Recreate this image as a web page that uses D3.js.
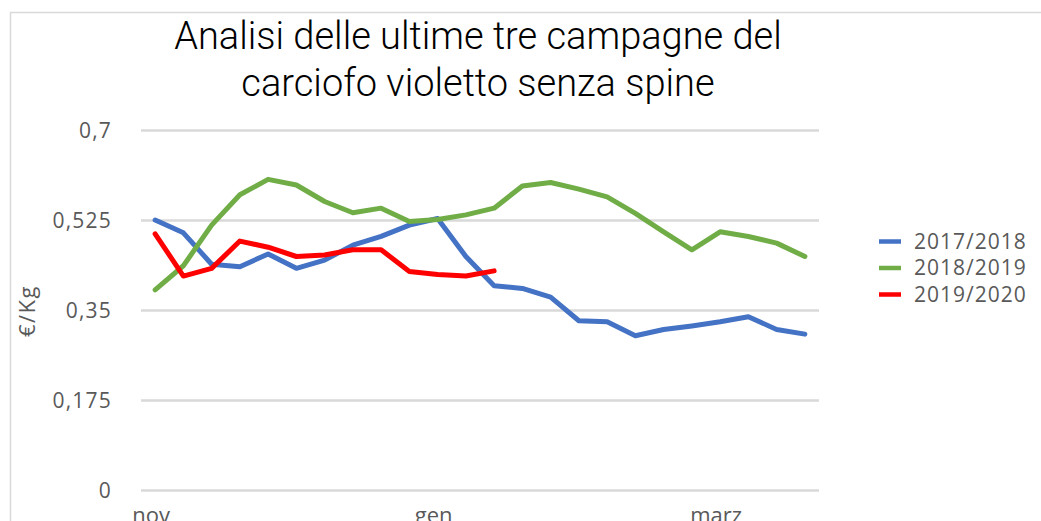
<!DOCTYPE html>
<html>
<head>
<meta charset="utf-8">
<script src="https://cdn.jsdelivr.net/npm/d3@7"></script>
<style>
  html, body { margin: 0; padding: 0; background: #fff; }
  svg { display: block; }
  .tick-label { font-family: "Open Sans", sans-serif; fill: #595959; }
</style>
</head>
<body>
<div id="chart"></div>
<script>
(function () {
  'use strict';

  // weeks of the campaign, nov -> apr
  var weeks = ["w1","w2","w3","w4","w5","w6","w7","w8","w9","w10","w11","w12",
               "w13","w14","w15","w16","w17","w18","w19","w20","w21","w22","w23","w24"];
  var monthLabels = { w1: "nov", w11: "gen", w21: "marz" };
  var yTicks = [0, 0.175, 0.35, 0.525, 0.7];

  var s2017 = [0.526, 0.501, 0.440, 0.435, 0.460, 0.432, 0.448, 0.477, 0.494, 0.516, 0.529, 0.455,
               0.398, 0.393, 0.376, 0.330, 0.328, 0.301, 0.313, 0.320, 0.328, 0.338, 0.313, 0.304];
  var s2018 = [0.390, 0.437, 0.516, 0.575, 0.605, 0.594, 0.562, 0.540, 0.549, 0.523, 0.527, 0.536,
               0.549, 0.592, 0.599, 0.586, 0.571, 0.539, 0.503, 0.468, 0.503, 0.494, 0.481, 0.455];
  var s2019 = [0.499, 0.417, 0.432, 0.485, 0.473, 0.455, 0.458, 0.468, 0.468, 0.426, 0.420, 0.417,
               0.427];

  var seriesNames = ["2017/2018", "2018/2019", "2019/2020"];
  var seriesColors = ["#4472C4", "#70AD47", "#FF0000"];
  var seriesData = [s2017, s2018, s2019];

  var W = 1041, H = 521;
  var svg = d3.select("#chart").append("svg")
    .attr("width", W)
    .attr("height", H);

  // chart border (only top and left visible)
  svg.append("line").attr("x1", 10).attr("x2", W).attr("y1", 12.5).attr("y2", 12.5)
    .attr("stroke", "#d9d9d9").attr("stroke-width", 1.5);
  svg.append("line").attr("x1", 10.5).attr("x2", 10.5).attr("y1", 12).attr("y2", H)
    .attr("stroke", "#d9d9d9").attr("stroke-width", 1.5);

  // title
  var title = svg.append("text")
    .attr("text-anchor", "middle")
    .attr("font-family", "Roboto, sans-serif")
    .attr("font-weight", 300)
    .attr("font-size", 38)
    .attr("fill", "#000");
  title.append("tspan").attr("x", 478).attr("y", 49).text("Analisi delle ultime tre campagne del");
  title.append("tspan").attr("x", 478).attr("y", 96).text("carciofo violetto senza spine");

  var x = d3.scalePoint().domain(weeks).range([141, 819]).padding(0.5);
  var y = d3.scaleLinear().domain([0, 0.7]).range([490.5, 130.5]);

  // grid
  svg.append("g").selectAll("line")
    .data(yTicks)
    .enter().append("line")
    .attr("x1", 141).attr("x2", 819)
    .attr("y1", function (d) { return y(d); })
    .attr("y2", function (d) { return y(d); })
    .attr("stroke", "#d9d9d9")
    .attr("stroke-width", 2.5);

  // y axis labels
  svg.append("g").selectAll("text")
    .data(yTicks)
    .enter().append("text")
    .attr("class", "tick-label")
    .attr("x", 112)
    .attr("y", function (d) { return y(d); })
    .attr("dy", "0.35em")
    .attr("text-anchor", "end")
    .attr("font-size", 21)
    .attr("letter-spacing", 1.2)
    .text(function (d) { return String(d).replace(".", ","); });

  svg.append("text")
    .attr("class", "tick-label")
    .attr("transform", "translate(35,311) rotate(-90)")
    .attr("text-anchor", "middle")
    .attr("font-size", 22)
    .attr("letter-spacing", 1.5)
    .text("€/Kg");

  // x axis labels
  svg.append("g").selectAll("text")
    .data(weeks.filter(function (w) { return monthLabels[w]; }))
    .enter().append("text")
    .attr("class", "tick-label")
    .attr("x", function (d) { return x(d) - 4; })
    .attr("y", 523)
    .attr("text-anchor", "middle")
    .attr("font-size", 22)
    .text(function (d) { return monthLabels[d]; });

  // lines
  var line = d3.line()
    .x(function (d, i) { return x(weeks[i]); })
    .y(function (d) { return y(d); });

  svg.append("g").selectAll("path")
    .data(seriesData)
    .enter().append("path")
    .attr("d", line)
    .attr("fill", "none")
    .attr("stroke", function (d, i) { return seriesColors[i]; })
    .attr("stroke-width", 5)
    .attr("stroke-linejoin", "round")
    .attr("stroke-linecap", "round");

  // legend
  var legend = svg.append("g").selectAll("g")
    .data(seriesNames)
    .enter().append("g")
    .attr("transform", function (d, i) { return "translate(879," + (241.5 + i * 26.5) + ")"; });

  legend.append("line")
    .attr("x1", 0).attr("x2", 22)
    .attr("stroke", function (d, i) { return seriesColors[i]; })
    .attr("stroke-width", 4.5);

  legend.append("text")
    .attr("class", "tick-label")
    .attr("x", 35)
    .attr("dy", "0.35em")
    .attr("font-size", 21)
    .attr("letter-spacing", 1)
    .text(function (d) { return d; });
}());
</script>
</body>
</html>
